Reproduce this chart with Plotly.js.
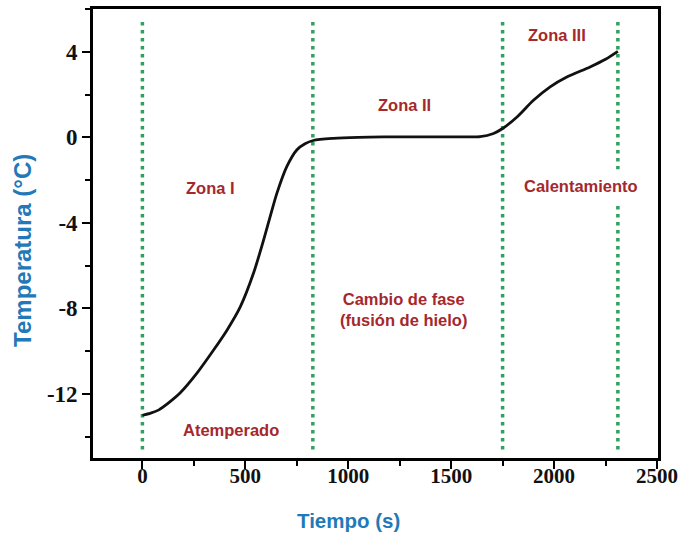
<!DOCTYPE html>
<html>
<head>
<meta charset="utf-8">
<script src="https://cdn.plot.ly/plotly-3.0.1.min.js"></script>
<style>
  html, body { margin: 0; padding: 0; background: #ffffff; }
  #chart { width: 685px; height: 538px; }
</style>
</head>
<body>
<div id="chart"></div>
<script>
// Temperature of the sample over time (s, °C)
const tiempo = [0, 40, 80, 130, 184, 265, 345, 411, 476, 540, 589, 621, 654, 702, 751, 790, 830, 928, 1050, 1172, 1300, 1413, 1550, 1641, 1706, 1750, 1820, 1900, 1981, 2062, 2175, 2250, 2310];
const temperatura = [-13.0, -12.9, -12.75, -12.4, -11.95, -11.03, -9.96, -9.02, -7.92, -6.35, -4.8, -3.7, -2.6, -1.36, -0.58, -0.3, -0.15, -0.05, 0.0, 0.02, 0.02, 0.02, 0.02, 0.03, 0.18, 0.41, 0.95, 1.73, 2.36, 2.82, 3.29, 3.65, 4.02];

// Zone boundaries (s) drawn as dotted green verticals
const limitesZona = [0, 828, 1750, 2310];
const limiteInferior = -14.6;
const limiteSuperior = 5.55;

// Zone labels: text and position in data units
const etiquetas = ['Zona I', 'Zona II', 'Zona III', 'Atemperado', 'Cambio de fase<br>(fusión de hielo)', 'Calentamiento'];
const etiquetaX = [330, 1275, 2015, 432, 1267, 2131];
const etiquetaY = [-2.35, 1.5, 4.77, -13.68, -8.05, -2.3];

// Axis ticks and their labels
const ticksX = [0, 500, 1000, 1500, 2000, 2500];
const textoTicksX = ['0', '500', '1000', '1500', '2000', '2500'];
const ticksY = [-12, -8, -4, 0, 4];
const textoTicksY = ['-12', '-8', '-4', '0', '4'];

// Axis titles
const tituloX = 'Tiempo (s)';
const tituloY = 'Temperatura (°C)';

const rojo = '#a4282e';
const azul = '#2379b8';
const verde = '#30a15e';
const sans = 'Liberation Sans, Arial, sans-serif';
const serif = 'Liberation Serif, Times New Roman, serif';

const trazas = [{
  x: tiempo,
  y: temperatura,
  type: 'scatter',
  mode: 'lines',
  line: { color: '#111111', width: 2.8, shape: 'spline', smoothing: 0.8 },
  hoverinfo: 'x+y'
}];

const shapes = limitesZona.map(x => ({
  type: 'line', xref: 'x', yref: 'y', layer: 'below',
  x0: x, x1: x, y0: limiteInferior, y1: limiteSuperior,
  line: { color: verde, width: 3.5, dash: '3.5px,4.5px' }
}));

const annotations = etiquetas.map((t, i) => ({
  text: t, x: etiquetaX[i], y: etiquetaY[i], xref: 'x', yref: 'y',
  showarrow: false,
  font: { family: sans, size: 16.5, color: rojo, weight: 'bold' },
  bgcolor: t === 'Calentamiento' ? '#ffffff' : 'rgba(0,0,0,0)',
  borderpad: t === 'Calentamiento' ? 7 : 1
}));

// Axis titles placed as free text so they sit where the figure puts them
annotations.push({
  text: tituloX, xref: 'x', yref: 'paper', x: 1000, y: -0.14,
  xanchor: 'center', yanchor: 'middle', showarrow: false,
  font: { family: sans, size: 20.5, color: azul, weight: 'bold' }
});
annotations.push({
  text: tituloY, xref: 'paper', yref: 'paper', x: -0.126, y: 0.463,
  xanchor: 'center', yanchor: 'middle', textangle: -90, showarrow: false,
  font: { family: sans, size: 24, color: azul, weight: 'bold' }
});

const ejeComun = {
  showgrid: false, zeroline: false,
  showline: true, linecolor: '#000000', linewidth: 2.8, mirror: true,
  ticks: 'outside', ticklen: 8, tickwidth: 2, tickcolor: '#000000'
};

const layout = {
  width: 685, height: 538,
  margin: { l: 93, r: 27, t: 9, b: 80 },
  paper_bgcolor: '#ffffff', plot_bgcolor: '#ffffff',
  showlegend: false,
  xaxis: Object.assign({}, ejeComun, {
    range: [-240, 2505],
    tickmode: 'array', tickvals: ticksX, ticktext: textoTicksX,
    ticklabelstandoff: -11,
    tickfont: { family: serif, size: 21, color: '#111111', weight: 'bold' },
    minor: { dtick: 250, tick0: 0, ticks: 'outside', ticklen: 5, tickwidth: 2, tickcolor: '#000000' }
  }),
  yaxis: Object.assign({}, ejeComun, {
    range: [-15, 6],
    tickmode: 'array', tickvals: ticksY, ticktext: textoTicksY,
    tickfont: { family: serif, size: 23, color: '#111111', weight: 'bold' },
    minor: { dtick: 2, tick0: 0, ticks: 'outside', ticklen: 5, tickwidth: 2, tickcolor: '#000000' }
  }),
  shapes: shapes,
  annotations: annotations
};

Plotly.newPlot('chart', trazas, layout, { displayModeBar: false, staticPlot: true });
</script>
</body>
</html>
